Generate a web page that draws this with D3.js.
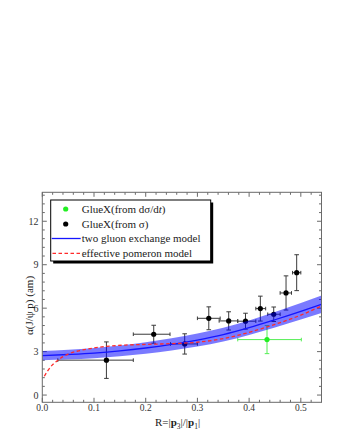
<!DOCTYPE html>
<html>
<head>
<meta charset="utf-8">
<script src="https://cdn.jsdelivr.net/npm/d3@7"></script>
<style>
html,body{margin:0;padding:0;background:#fff;}
svg{display:block;}
text{font-family:"Liberation Serif","DejaVu Serif",serif;}
</style>
</head>
<body>
<svg id="chart" width="340" height="440"></svg>
<script>
// ---- data ----
const blackR    = [0.124, 0.2155, 0.2754, 0.322, 0.3605, 0.393, 0.4217, 0.4476, 0.4714, 0.492];
const blackA    = [2.41, 4.20, 3.53, 5.30, 5.12, 5.10, 5.97, 5.58, 7.05, 8.45];
const blackRlo  = [0.030, 0.176, 0.248, 0.300, 0.342, 0.378, 0.413, 0.436, 0.460, 0.484];
const blackRhi  = [0.176, 0.247, 0.300, 0.344, 0.378, 0.413, 0.432, 0.460, 0.482, 0.500];
const blackAerr = [1.26, 0.62, 0.70, 0.79, 0.63, 0.55, 0.86, 0.50, 1.18, 1.24];

const greenR    = [0.4346];
const greenA    = [3.83];
const greenRlo  = [0.378];
const greenRhi  = [0.501];
const greenAerr = [0.97];

const modelR    = [0, 0.05, 0.10, 0.15, 0.20, 0.25, 0.30, 0.35, 0.40, 0.45, 0.50, 0.54];
const gluon     = [2.72, 2.80, 2.90, 3.05, 3.25, 3.50, 3.80, 4.17, 4.65, 5.20, 5.78, 6.27];
const gluonLow  = [2.40, 2.47, 2.55, 2.68, 2.85, 3.08, 3.35, 3.69, 4.15, 4.67, 5.21, 5.67];
const gluonHigh = [3.04, 3.13, 3.25, 3.42, 3.65, 3.92, 4.25, 4.65, 5.15, 5.73, 6.35, 6.87];

const pomR      = [0.004, 0.01, 0.02, 0.03, 0.04, 0.05, 0.07, 0.10, 0.13, 0.16, 0.20, 0.25, 0.30, 0.35, 0.40, 0.45, 0.50, 0.54];
const pomeron   = [1.30, 1.65, 2.10, 2.40, 2.65, 2.83, 3.05, 3.25, 3.38, 3.45, 3.50, 3.55, 3.65, 3.90, 4.33, 4.88, 5.52, 6.15];

const xTicks = [0, 0.1, 0.2, 0.3, 0.4, 0.5];
const xTickLabels = ["0.0", "0.1", "0.2", "0.3", "0.4", "0.5"];
const yTicks = [0, 3, 6, 9, 12];
const yTickLabels = ["0", "3", "6", "9", "12"];

const legendLabels = ["GlueX(from dσ/dt)", "GlueX(from σ)", "two gluon exchange model", "effective pomeron model"];

// ---- layout ----
const svg = d3.select("#chart");
const L = 42.3, R = 321.5, T = 192.3, B = 402.3;
const x = d3.scaleLinear().domain([0, 0.54]).range([L, R]);
const y = d3.scaleLinear().domain([-0.5, 14]).range([B, T]);

svg.append("rect").attr("width", 340).attr("height", 440).attr("fill", "#fff");

svg.append("defs").append("clipPath").attr("id", "clip")
  .append("rect").attr("x", L).attr("y", T).attr("width", R - L).attr("height", B - T);

const frameColor = "#6a6a6a";

// minor ticks
const xMinor = d3.range(0, 0.541, 0.02).filter(v => Math.abs(v * 10 - Math.round(v * 10)) > 1e-6);
const yMinor = d3.range(0, 14.01, 0.6).filter(v => Math.abs(v / 3 - Math.round(v / 3)) > 1e-6);

const tickG = svg.append("g").attr("stroke", frameColor).attr("stroke-width", 1);
function xt(v, len) {
  tickG.append("line").attr("x1", x(v)).attr("x2", x(v)).attr("y1", B).attr("y2", B - len);
  tickG.append("line").attr("x1", x(v)).attr("x2", x(v)).attr("y1", T).attr("y2", T + len);
}
function yt(v, len) {
  tickG.append("line").attr("y1", y(v)).attr("y2", y(v)).attr("x1", L).attr("x2", L + len);
  tickG.append("line").attr("y1", y(v)).attr("y2", y(v)).attr("x1", R).attr("x2", R - len);
}
xTicks.forEach(v => xt(v, 4.5));
xMinor.forEach(v => xt(v, 2.5));
yTicks.forEach(v => yt(v, 4.5));
yMinor.forEach(v => yt(v, 2.5));

// tick labels
svg.append("g").selectAll("text").data(xTicks).join("text")
  .attr("x", d => x(d)).attr("y", 411)
  .attr("text-anchor", "middle").attr("font-size", 9.5).attr("fill", "#333")
  .text((d, i) => xTickLabels[i]);
svg.append("g").selectAll("text").data(yTicks).join("text")
  .attr("x", 38.5).attr("y", d => y(d) + 3.5)
  .attr("text-anchor", "end").attr("font-size", 10).attr("fill", "#333")
  .text((d, i) => yTickLabels[i]);

// axis titles
const xt2 = svg.append("text").attr("x", 177.5).attr("y", 426).attr("text-anchor", "middle")
  .attr("font-size", 11).attr("fill", "#222");
xt2.append("tspan").text("R=|");
xt2.append("tspan").attr("font-weight", "bold").text("p");
xt2.append("tspan").attr("font-size", 7.5).attr("dy", 2.5).text("3");
xt2.append("tspan").attr("dy", -2.5).text("|/|");
xt2.append("tspan").attr("font-weight", "bold").text("p");
xt2.append("tspan").attr("font-size", 7.5).attr("dy", 2.5).text("1");
xt2.append("tspan").attr("dy", -2.5).text("|");

svg.append("text").attr("transform", "translate(33,305.5) rotate(-90)")
  .attr("text-anchor", "middle").attr("font-size", 11).attr("fill", "#222")
  .text("α(J/ψ p) (am)");

// ---- data points with error bars ----
function drawPoints(rs, as, rlo, rhi, aerr, col, barCol) {
  const g = svg.append("g");
  const idx = d3.range(rs.length);
  const eb = g.append("g").attr("stroke", barCol).attr("stroke-width", 1).attr("fill", "none");
  idx.forEach(i => {
    const cx = x(rs[i]), cy = y(as[i]);
    const x0 = x(rlo[i]), x1 = x(rhi[i]);
    const y0 = y(as[i] - aerr[i]), y1 = y(as[i] + aerr[i]);
    eb.append("line").attr("x1", x0).attr("x2", x1).attr("y1", cy).attr("y2", cy);
    eb.append("line").attr("x1", x0).attr("x2", x0).attr("y1", cy - 1.8).attr("y2", cy + 1.8);
    eb.append("line").attr("x1", x1).attr("x2", x1).attr("y1", cy - 1.8).attr("y2", cy + 1.8);
    eb.append("line").attr("x1", cx).attr("x2", cx).attr("y1", y0).attr("y2", y1);
    eb.append("line").attr("x1", cx - 2.3).attr("x2", cx + 2.3).attr("y1", y0).attr("y2", y0);
    eb.append("line").attr("x1", cx - 2.3).attr("x2", cx + 2.3).attr("y1", y1).attr("y2", y1);
  });
  g.selectAll("circle").data(idx).join("circle")
    .attr("cx", i => x(rs[i])).attr("cy", i => y(as[i])).attr("r", 2.6).attr("fill", col);
}
drawPoints(blackR, blackA, blackRlo, blackRhi, blackAerr, "#000", "#3a3a3a");
drawPoints(greenR, greenA, greenRlo, greenRhi, greenAerr, "#22ee22", "#55ee55");

// ---- model curves ----
const plotG = svg.append("g").attr("clip-path", "url(#clip)");
const idxM = d3.range(modelR.length);
plotG.append("path")
  .attr("d", d3.area().x(i => x(modelR[i])).y0(i => y(gluonLow[i])).y1(i => y(gluonHigh[i]))
    .curve(d3.curveMonotoneX)(idxM))
  .attr("fill", "#0000ff").attr("fill-opacity", 0.52);
plotG.append("path")
  .attr("d", d3.line().x(i => x(modelR[i])).y(i => y(gluon[i])).curve(d3.curveMonotoneX)(idxM))
  .attr("fill", "none").attr("stroke", "#1515ff").attr("stroke-width", 1.3);
const idxP = d3.range(pomR.length);
plotG.append("path")
  .attr("d", d3.line().x(i => x(pomR[i])).y(i => y(pomeron[i])).curve(d3.curveMonotoneX)(idxP))
  .attr("fill", "none").attr("stroke", "#ff2a2a").attr("stroke-width", 1.3)
  .attr("stroke-dasharray", "3.5,2.5");

// frame
svg.append("rect").attr("x", L).attr("y", T).attr("width", R - L).attr("height", B - T)
  .attr("fill", "none").attr("stroke", frameColor).attr("stroke-width", 1);

// ---- legend ----
const lg = svg.append("g");
const lx = 50.7, ly = 200, lw = 160, lh = 61;
lg.append("rect").attr("x", lx + 2.5).attr("y", ly + 2.5).attr("width", lw).attr("height", lh).attr("fill", "#000");
lg.append("rect").attr("x", lx).attr("y", ly).attr("width", lw).attr("height", lh)
  .attr("fill", "#fff").attr("stroke", "#000").attr("stroke-width", 1);
const rowY = [209, 224, 238.5, 253.3];
lg.append("circle").attr("cx", 65.7).attr("cy", rowY[0]).attr("r", 2.6).attr("fill", "#22ee22");
lg.append("circle").attr("cx", 65.7).attr("cy", rowY[1]).attr("r", 2.6).attr("fill", "#000");
lg.append("line").attr("x1", 51.7).attr("x2", 80.7).attr("y1", rowY[2]).attr("y2", rowY[2])
  .attr("stroke", "#1515ff").attr("stroke-width", 1.3);
lg.append("line").attr("x1", 52.5).attr("x2", 80.7).attr("y1", rowY[3]).attr("y2", rowY[3])
  .attr("stroke", "#ff2a2a").attr("stroke-width", 1.3).attr("stroke-dasharray", "3.5,2.5");
legendLabels.forEach((t, i) => {
  const tx = lg.append("text").attr("x", 81.7).attr("y", rowY[i] + 3.8)
    .attr("font-size", 11).attr("fill", "#222");
  if (i === 0) {
    tx.append("tspan").text("GlueX(from dσ/d");
    tx.append("tspan").attr("font-style", "italic").text("t");
    tx.append("tspan").text(")");
  } else {
    tx.text(t);
  }
});
</script>
</body>
</html>
